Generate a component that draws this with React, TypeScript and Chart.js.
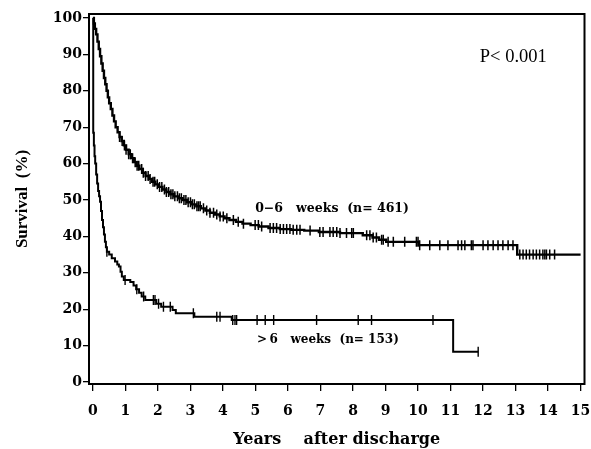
import React, { useEffect, useRef } from "react";
import { Chart, registerables } from "chart.js";

Chart.register(...registerables);

// X / Y tick labels
const xTicks = [0, 1, 2, 3, 4, 5, 6, 7, 8, 9, 10, 11, 12, 13, 14, 15];
const yTicks = [0, 10, 20, 30, 40, 50, 60, 70, 80, 90, 100];

// 0–6 weeks group (n = 461): Kaplan–Meier step points
const g1Time = [0, 0.03, 0.06, 0.1, 0.14, 0.18, 0.22, 0.26, 0.3, 0.34, 0.38, 0.42, 0.46, 0.5, 0.55, 0.6, 0.65, 0.7, 0.76, 0.82, 0.88, 0.95, 1.02, 1.1, 1.18, 1.26, 1.34, 1.43, 1.52, 1.62, 1.72, 1.82, 1.92, 2.03, 2.14, 2.26, 2.38, 2.5, 2.63, 2.76, 2.9, 3.04, 3.18, 3.32, 3.46, 3.6, 3.75, 3.9, 4.05, 4.2, 4.4, 4.6, 4.85, 5.1, 5.4, 5.75, 6.1, 6.5, 6.95, 7.6, 8.3, 8.6, 8.8, 9.02, 10.02, 13.05, 15.0];
const g1Surv = [100, 98.5, 97, 95.5, 93.5, 91.5, 89.5, 87.5, 85.5, 83.5, 81.8, 80, 78.2, 76.6, 75, 73.2, 71.6, 70, 68.6, 67.3, 66.2, 65, 63.8, 62.6, 61.5, 60.4, 59.4, 58.5, 57.5, 56.6, 55.8, 55, 54.3, 53.6, 52.9, 52.2, 51.6, 51, 50.5, 50, 49.4, 48.8, 48.3, 47.7, 47.1, 46.5, 46, 45.5, 45, 44.5, 44, 43.5, 43.1, 42.7, 42.3, 42, 41.8, 41.6, 41.2, 40.9, 40.3, 39.7, 39.1, 38.5, 37.6, 35.0, 35.0];
const g1Censor = [0.82, 0.9, 0.97, 1.02, 1.1, 1.15, 1.22, 1.3, 1.36, 1.41, 1.5, 1.55, 1.62, 1.7, 1.76, 1.85, 1.9, 1.98, 2.05, 2.12, 2.2, 2.26, 2.33, 2.4, 2.46, 2.52, 2.6, 2.66, 2.72, 2.8, 2.86, 2.93, 3.0, 3.06, 3.12, 3.2, 3.25, 3.3, 3.4, 3.5, 3.6, 3.71, 3.81, 3.91, 4.01, 4.12, 4.32, 4.47, 4.63, 4.99, 5.09, 5.19, 5.45, 5.55, 5.65, 5.76, 5.86, 5.96, 6.06, 6.16, 6.27, 6.37, 6.68, 6.98, 7.08, 7.29, 7.39, 7.5, 7.6, 7.8, 7.96, 8.01, 8.42, 8.52, 8.62, 8.72, 8.88, 8.93, 9.08, 9.24, 9.59, 9.95, 10.0, 10.05, 10.36, 10.67, 10.92, 11.23, 11.34, 11.44, 11.64, 11.69, 12.0, 12.15, 12.31, 12.46, 12.61, 12.77, 12.92, 13.13, 13.23, 13.33, 13.43, 13.54, 13.64, 13.74, 13.84, 13.9, 13.95, 14.05, 14.2];

// >6 weeks group (n = 153)
const g2Time = [0, 0.01, 0.03, 0.05, 0.07, 0.1, 0.13, 0.16, 0.19, 0.22, 0.25, 0.28, 0.31, 0.34, 0.37, 0.4, 0.43, 0.5, 0.58, 0.68, 0.75, 0.8, 0.85, 0.89, 0.95, 1.15, 1.25, 1.33, 1.42, 1.5, 1.61, 1.95, 2.1, 2.45, 2.55, 3.12, 4.27, 11.08, 11.85];
const g2Surv = [100, 68.5, 65, 62, 60, 57, 54.5, 52.5, 51, 49.5, 47, 44.5, 42.5, 40.5, 38.5, 37, 35.8, 35, 34, 33.1, 32.3, 31.7, 30.3, 29, 28, 27.5, 26.5, 25.5, 24.5, 23.5, 22.5, 21.5, 20.7, 19.8, 18.9, 17.9, 17.0, 8.3, 8.3];
const g2Censor = [0.43, 0.99, 1.35, 1.56, 1.86, 1.91, 2.02, 2.17, 2.38, 3.09, 3.81, 3.91, 4.3, 4.37, 4.42, 5.05, 5.3, 5.56, 6.88, 8.16, 8.57, 10.46, 11.85];

// Annotations: text anchored at (years, %)
const labels = [
  { text: "P< 0.001", x: 11.9, y: 88.0, font: "normal 18.5px 'Liberation Serif'" },
  { text: "0\u22126   weeks  (n= 461)", x: 4.99, y: 46.7, font: "bold 12.5px 'DejaVu Serif'" },
  { text: ">\u20096   weeks  (n= 153)", x: 5.05, y: 10.6, font: "bold 12px 'DejaVu Serif'" },
];

function survAt(times: number[], surv: number[], t: number) {
  let v = surv[0];
  for (let i = 0; i < times.length; i++) {
    if (times[i] <= t) v = surv[i];
  }
  return v;
}

const framePlugin = {
  id: "frameAndText",
  afterDraw(chart: any) {
    const { ctx, chartArea, scales } = chart;
    ctx.save();
    ctx.strokeStyle = "#000";
    ctx.lineWidth = 2;
    ctx.strokeRect(chartArea.left, chartArea.top, chartArea.right - chartArea.left, chartArea.bottom - chartArea.top);
    ctx.fillStyle = "#000";
    ctx.textAlign = "left";
    ctx.textBaseline = "alphabetic";
    for (const l of labels) {
      ctx.font = l.font;
      ctx.fillText(l.text, scales.x.getPixelForValue(l.x), scales.y.getPixelForValue(l.y));
    }
    ctx.restore();
  },
};

export default function App() {
  const ref = useRef<HTMLCanvasElement | null>(null);
  useEffect(() => {
    if (!ref.current) return;
    const line = (t: number[], s: number[]) => t.map((x, i) => ({ x, y: s[i] }));
    const cens = (c: number[], t: number[], s: number[]) => c.map((x) => ({ x, y: survAt(t, s, x) }));
    const tickFont = { family: "'DejaVu Serif'", weight: "bold" as const, size: 14 };
    const chart = new Chart(ref.current, {
      type: "scatter",
      data: {
        datasets: [
          { type: "line", data: line(g1Time, g1Surv), stepped: "before", borderColor: "#000", borderWidth: 2.4, pointRadius: 0, fill: false },
          { type: "line", data: line(g2Time, g2Surv), stepped: "before", borderColor: "#000", borderWidth: 2, pointRadius: 0, fill: false },
          { data: cens(g1Censor, g1Time, g1Surv), pointStyle: "line", rotation: 90, radius: 5, borderColor: "#000", borderWidth: 1.5, backgroundColor: "#000" } as any,
          { data: cens(g2Censor, g2Time, g2Surv), pointStyle: "line", rotation: 90, radius: 5, borderColor: "#000", borderWidth: 1.4, backgroundColor: "#000" } as any,
        ],
      },
      options: {
        animation: false,
        responsive: true,
        maintainAspectRatio: false,
        layout: { padding: { top: 14, right: 6, left: 0, bottom: 0 } },
        plugins: { legend: { display: false }, tooltip: { enabled: false } },
        scales: {
          x: {
            type: "linear",
            min: -0.12,
            max: 15.12,
            afterFit: (s: any) => { s.height = 65; s.paddingLeft = 0; s.paddingRight = 0; },
            afterBuildTicks: (s: any) => { s.ticks = xTicks.map((v) => ({ value: v })); },
            border: { display: false },
            grid: { display: true, drawOnChartArea: false, drawTicks: true, tickLength: 7, color: "#000", lineWidth: 1.3 },
            ticks: { color: "#000", font: tickFont, padding: 12, maxRotation: 0, autoSkip: false },
            title: { display: true, text: "Years    after discharge", color: "#000", font: { family: "'DejaVu Serif'", weight: "bold", size: 16 }, padding: { top: 0, bottom: 0 } },
          },
          y: {
            type: "linear",
            min: -0.55,
            max: 101.1,
            afterFit: (s: any) => { s.width = 89; s.paddingTop = 0; s.paddingBottom = 0; },
            afterBuildTicks: (s: any) => { s.ticks = yTicks.map((v) => ({ value: v })); },
            border: { display: false },
            grid: { display: true, drawOnChartArea: false, drawTicks: true, tickLength: 6, color: "#000", lineWidth: 1.3 },
            ticks: { color: "#000", font: tickFont, padding: 1, autoSkip: false },
            title: { display: true, text: "Survival  (%)", color: "#000", font: { family: "'Liberation Serif'", weight: "bold", size: 17 }, padding: { top: 12, bottom: 0 } },
          },
        },
      },
      plugins: [framePlugin],
    } as any);
    return () => chart.destroy();
  }, []);
  return (
    <div style={{ position: "absolute", left: 0, top: 0, width: 591, height: 449, background: "#fff" }}>
      <canvas ref={ref} />
    </div>
  );
}
